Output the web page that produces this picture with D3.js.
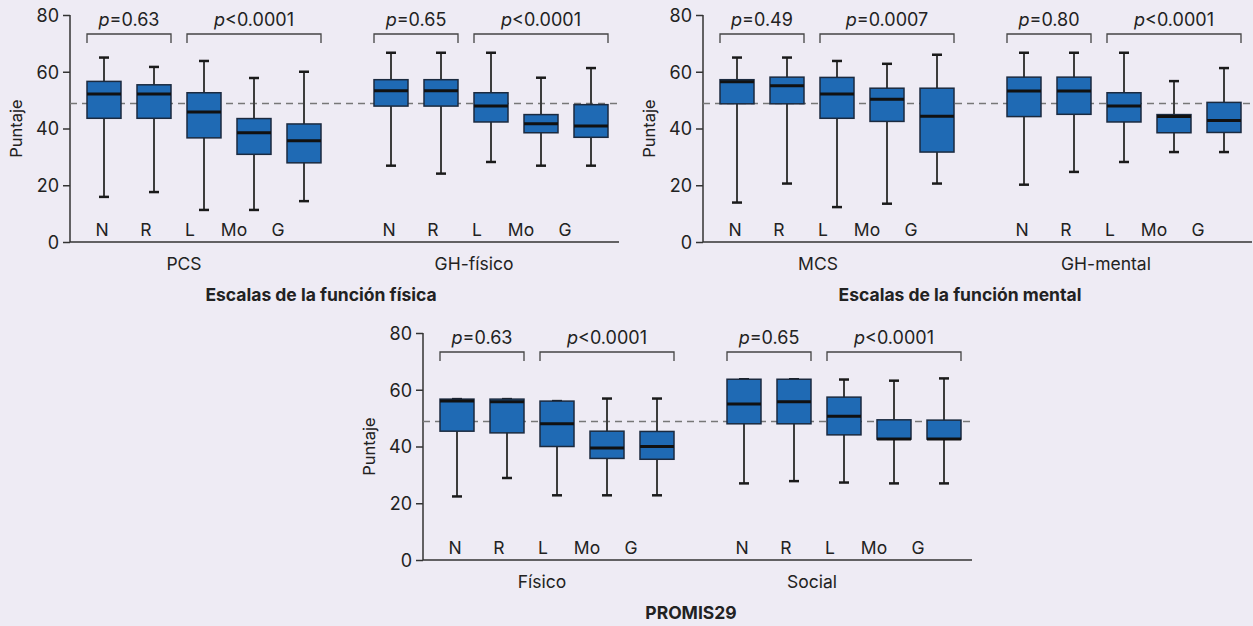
<!DOCTYPE html>
<html>
<head>
<meta charset="utf-8">
<script src="https://cdn.jsdelivr.net/npm/d3@7"></script>
<style>
  html, body { margin: 0; padding: 0; background: #eeebf4; overflow: hidden; }
  svg { display: block; overflow: visible; }
</style>
</head>
<body>
<script>
const width = 1253
const height = 626
const font = "Inter, 'Open Sans', sans-serif"

const categories = ["N", "R", "L", "Mo", "G"]
const yTicks = [0, 20, 40, 60, 80]
const refLine = 48.8

// each box: [min, q1, median, q3, max]
const pcs = [[15.9, 43.6, 52.2, 56.6, 65.0], [17.6, 43.6, 52.2, 55.4, 61.7], [11.3, 36.7, 45.8, 52.6, 63.8], [11.3, 30.9, 38.5, 43.5, 57.8], [14.4, 27.9, 35.7, 41.6, 60.0]]
const ghFisico = [[26.9, 47.9, 53.3, 57.2, 66.7], [24.1, 47.9, 53.3, 57.2, 66.7], [28.2, 42.3, 47.9, 52.6, 66.7], [26.9, 38.5, 41.7, 44.9, 57.9], [26.9, 36.9, 40.9, 48.4, 61.3]]
const mcs = [[13.9, 48.7, 56.5, 57.2, 65.0], [20.6, 48.7, 55.1, 58.1, 65.0], [12.3, 43.6, 52.2, 58.0, 63.8], [13.5, 42.5, 50.3, 54.2, 62.8], [20.6, 31.7, 44.3, 54.2, 66.0]]
const ghMental = [[20.2, 44.2, 53.2, 58.1, 66.7], [24.7, 45.0, 53.2, 58.1, 66.7], [28.2, 42.3, 47.9, 52.6, 66.7], [31.7, 38.5, 44.2, 44.9, 56.7], [31.7, 38.6, 42.8, 49.2, 61.3]]
const fisico = [[22.4, 45.4, 56.0, 56.7, 56.7], [28.9, 44.8, 55.8, 56.7, 56.7], [22.8, 40.0, 48.0, 56.0, 56.0], [22.8, 35.8, 39.5, 45.4, 56.9], [22.8, 35.5, 40.0, 45.3, 56.9]]
const social = [[27.0, 48.0, 55.0, 63.7, 63.7], [27.8, 48.0, 55.8, 63.7, 63.7], [27.3, 44.1, 50.7, 57.4, 63.6], [27.0, 42.6, 42.6, 49.4, 63.2], [27.0, 42.6, 42.6, 49.3, 64.0]]

const pValues = {
  pcs: ["=0.63", "<0.0001"],
  ghFisico: ["=0.65", "<0.0001"],
  mcs: ["=0.49", "=0.0007"],
  ghMental: ["=0.80", "<0.0001"],
  fisico: ["=0.63", "<0.0001"],
  social: ["=0.65", "<0.0001"]
}

const panels = [
  { title: "Escalas de la función física", groups: ["PCS", "GH-físico"], data: [pcs, ghFisico], p: [pValues.pcs, pValues.ghFisico], x: 70, y: 15, nameDx: [114, 117], titleDx: 251 },
  { title: "Escalas de la función mental", groups: ["MCS", "GH-mental"], data: [mcs, ghMental], p: [pValues.mcs, pValues.ghMental], x: 703, y: 15, nameDx: [115, 116], titleDx: 257 },
  { title: "PROMIS29", groups: ["Físico", "Social"], data: [fisico, social], p: [pValues.fisico, pValues.social], x: 423, y: 333, nameDx: [119, 102], titleDx: 268 }
]

const panelW = 549
const innerHeight = 227
const boxW = 34

const svg = d3.select("body")
    .append("svg")
    .attr("width", width)
    .attr("height", height)
    .attr("viewBox", "0 0 " + width + " " + height)
    .attr("font-family", font)

svg.append("rect")
    .attr("width", width)
    .attr("height", height)
    .attr("fill", "#eeebf4")

const yScale = d3.scaleLinear()
    .domain([0, 80])
    .range([innerHeight, 0])

const inner = d3.scalePoint()
    .domain(categories)
    .range([34, 234])

const labelScale = d3.scalePoint()
    .domain(categories)
    .range([32, 208])

panels.forEach(function(panel) {
    const g = svg.append("g")
        .attr("transform", "translate(" + panel.x + "," + panel.y + ")")

    const groupScale = d3.scaleBand()
        .domain(panel.groups)
        .range([0, 574])

    const yAxis = d3.axisLeft(yScale)
        .tickValues(yTicks)
        .tickSize(7)
        .tickPadding(4)

    const ay = g.append("g").call(yAxis)
        .attr("font-family", font)
        .attr("font-size", 18)
    ay.select(".domain").attr("stroke", "#333").attr("stroke-width", 1.5).attr("d", "M0,0V" + innerHeight)
    ay.selectAll(".tick line").attr("stroke", "#333").attr("stroke-width", 1.5)
    ay.selectAll(".tick text").attr("fill", "#222").attr("dy", "0.36em")

    g.append("line")
        .attr("x1", 0)
        .attr("x2", panelW)
        .attr("y1", innerHeight)
        .attr("y2", innerHeight)
        .attr("stroke", "#333")
        .attr("stroke-width", 1.5)

    g.append("text")
        .attr("transform", "translate(-48," + (innerHeight / 2) + ") rotate(-90)")
        .attr("text-anchor", "middle")
        .attr("font-size", 16.5)
        .attr("fill", "#222")
        .text("Puntaje")

    // dashed reference line
    g.append("line")
        .attr("x1", 0)
        .attr("x2", panelW)
        .attr("y1", yScale(refLine))
        .attr("y2", yScale(refLine))
        .attr("stroke", "#777")
        .attr("stroke-width", 1.5)
        .attr("stroke-dasharray", "7,5")

    panel.groups.forEach(function(name, gi) {
        const x0 = groupScale(name)
        const boxes = panel.data[gi]

        // brackets + p values
        const pairs = [["N", "R"], ["L", "G"]]
        pairs.forEach(function(pair, pi) {
            const xa = x0 + inner(pair[0]) - boxW / 2
            const xb = x0 + inner(pair[1]) + boxW / 2
            const yb = yScale(73.3)
            g.append("path")
                .attr("d", "M" + xa + "," + (yb + 9) + "V" + yb + "H" + xb + "V" + (yb + 9))
                .attr("fill", "none")
                .attr("stroke", "#444")
                .attr("stroke-width", 1.3)
            const t = g.append("text")
                .attr("x", (xa + xb) / 2)
                .attr("y", yb - 8)
                .attr("text-anchor", "middle")
                .attr("font-size", 18)
                .attr("fill", "#222")
            t.append("tspan").attr("font-style", "italic").text("p")
            t.append("tspan").text(panel.p[gi][pi])
        })

        boxes.forEach(function(d, i) {
            const cx = x0 + inner(categories[i])
            // whiskers
            g.append("line")
                .attr("x1", cx).attr("x2", cx)
                .attr("y1", yScale(d[0])).attr("y2", yScale(d[4]))
                .attr("stroke", "#3c3c3c")
                .attr("stroke-width", 2)
            ;[d[0], d[4]].forEach(function(v) {
                g.append("line")
                    .attr("x1", cx - 5).attr("x2", cx + 5)
                    .attr("y1", yScale(v)).attr("y2", yScale(v))
                    .attr("stroke", "#1a1a1a")
                    .attr("stroke-width", 2.5)
            })
            g.append("rect")
                .attr("x", cx - boxW / 2)
                .attr("y", yScale(d[3]))
                .attr("width", boxW)
                .attr("height", yScale(d[1]) - yScale(d[3]))
                .attr("fill", "#1f6ab4")
                .attr("stroke", "#1b2a3f")
                .attr("stroke-width", 1.5)
            g.append("line")
                .attr("x1", cx - boxW / 2).attr("x2", cx + boxW / 2)
                .attr("y1", yScale(d[2])).attr("y2", yScale(d[2]))
                .attr("stroke", "#111")
                .attr("stroke-width", 3)
        })

        categories.forEach(function(c) {
            g.append("text")
                .attr("x", x0 + labelScale(c))
                .attr("y", innerHeight - 6)
                .attr("text-anchor", "middle")
                .attr("font-size", 17.5)
                .attr("fill", "#222")
                .text(c)
        })

        g.append("text")
            .attr("x", x0 + panel.nameDx[gi])
            .attr("y", innerHeight + 28)
            .attr("text-anchor", "middle")
            .attr("font-size", 17.5)
            .attr("fill", "#222")
            .text(name)
    })

    g.append("text")
        .attr("x", panel.titleDx)
        .attr("y", innerHeight + 59)
        .attr("text-anchor", "middle")
        .attr("font-size", 17.5)
        .attr("font-weight", "bold")
        .attr("fill", "#222")
        .text(panel.title)
})
</script>
</body>
</html>
